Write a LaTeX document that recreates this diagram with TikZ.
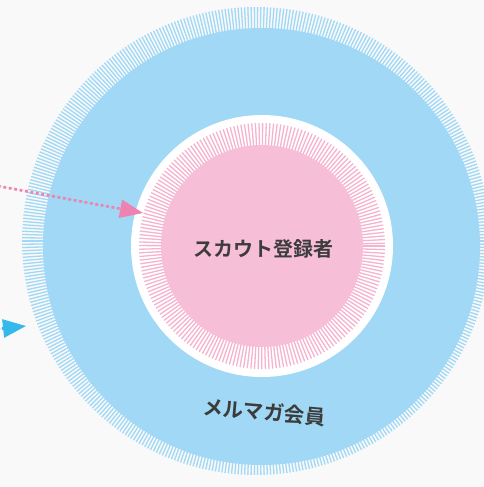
\documentclass[tikz,border=0pt]{standalone}
\usepackage{fontspec}
\newfontfamily\cjk{Noto Sans CJK JP}[BoldFont={Noto Sans CJK JP Bold}]
\usetikzlibrary{arrows.meta}
\definecolor{bg}{HTML}{F9F9F9}
\definecolor{skyblue}{HTML}{A0D8F5}
\definecolor{pinkfill}{HTML}{F7BED7}
\definecolor{pinkline}{HTML}{F5B3CF}
\definecolor{pinkarrow}{HTML}{EE82B0}
\definecolor{bluearrow}{HTML}{35B8EA}
\definecolor{txt}{HTML}{3C3C3C}
\tikzset{
  bluestripe/.style={draw=skyblue, line width=1.3pt},
  pinkstripe/.style={draw=pinkline, line width=1.3pt},
  disc/.style={circle, inner sep=0pt, outer sep=0pt, draw=none},
  label/.style={text=txt, font=\cjk\bfseries\fontsize{20}{24}\selectfont},
  dotarrow/.style={line width=2.7pt, dash pattern=on 2.7pt off 2.8pt, -{Triangle[length=23pt,width=18pt]}}
}
\begin{document}
\begin{tikzpicture}[x=1pt,y=-1pt]
\fill[bg] (0,0) rectangle (484,487);
\clip (0,0) rectangle (484,487);
% outer hatched ring
\begin{scope}[shift={(256,241)}]
\foreach \a in {0,0.8,...,359.9} \draw[bluestripe] (\a:200) -- (\a:234);
\end{scope}
\node[disc, fill=skyblue, minimum size=437pt] (members) at (261.5,246.5) {};
% white disc with pink hatch
\node[disc, fill=white, minimum size=262pt] (whitedisc) at (262,246) {};
\begin{scope}[shift={(262,246)}]
\foreach \a in {0,1.7,...,359.9} \draw[pinkstripe] (\a:95) -- (\a:123);
\end{scope}
\node[disc, fill=pinkfill, minimum size=202pt] (scouts) at (262,246) {};
% labels
\node[label] (scoutlabel) at (263,249) {スカウト登録者};
\node[label, font=\cjk\bfseries\fontsize{20.5}{24}\selectfont, rotate=-5] (memberlabel) at (264,412) {メルマガ会員};
% arrows
\coordinate (pinkstart) at (-2,186);
\coordinate (pinktip) at (143,213);
\coordinate (bluestart) at (-20,331);
\coordinate (bluetip) at (26,326);
\draw[dotarrow, draw=pinkarrow, fill=pinkarrow] (pinkstart) -- (pinktip);
\draw[dotarrow, draw=bluearrow, fill=bluearrow] (bluestart) -- (bluetip);
\end{tikzpicture}
\end{document}
